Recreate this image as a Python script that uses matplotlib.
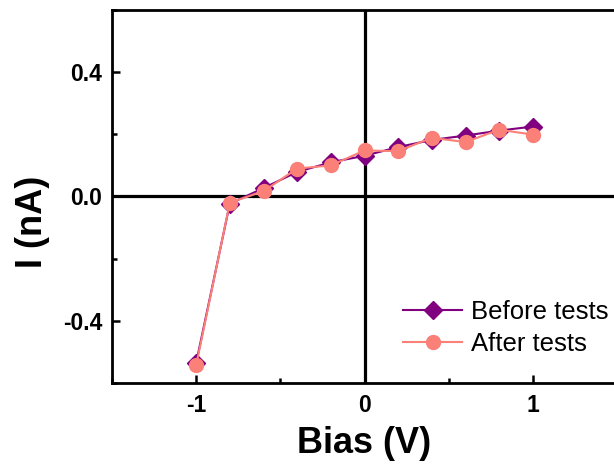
import matplotlib
matplotlib.use('Agg')
import matplotlib.pyplot as plt
from matplotlib.ticker import MultipleLocator

plt.rcParams['font.family'] = ['Liberation Sans', 'DejaVu Sans']

# I-V данные до и после испытаний
bias = [-1.0, -0.8, -0.6, -0.4, -0.2, 0.0, 0.2, 0.4, 0.6, 0.8, 1.0]
before = [-0.535, -0.023, 0.027, 0.079, 0.110, 0.131, 0.159, 0.182, 0.196, 0.212, 0.225]
after = [-0.543, -0.020, 0.017, 0.090, 0.100, 0.148, 0.146, 0.189, 0.175, 0.215, 0.199]

W, H = 614, 468
fig = plt.figure(figsize=(W / 100, H / 100), dpi=100)
ax = fig.add_axes([112 / W, 1 - 383 / H, (617 - 112) / W, (383 - 10) / H])

# оси через ноль
ax.axhline(0, color='black', lw=2.3, zorder=1)
ax.axvline(0, color='black', lw=2.3, zorder=1)

ax.plot(bias, before, '-D', color='#800080', lw=1.5, ms=9,
        label='Before tests', zorder=3)
ax.plot(bias, after, '-o', color='#FA8078', lw=1.5, ms=10,
        label='After tests', zorder=4)

ax.set_xlim(-1.5, 1.5)
ax.set_ylim(-0.6, 0.6)
ax.xaxis.set_minor_locator(MultipleLocator(0.5))
ax.yaxis.set_minor_locator(MultipleLocator(0.2))
ax.set_xticks([-1, 0, 1])
ax.set_xticklabels(['-1', '0', '1'])
ax.set_yticks([-0.4, 0.0, 0.4])
ax.set_yticklabels(['-0.4', '0.0', '0.4'])

for s in ax.spines.values():
    s.set_linewidth(2.0)

ax.tick_params(which='major', direction='in', length=6, width=1.8,
               labelsize=16.5)
ax.tick_params(which='minor', direction='in', length=3.5, width=1.8)
ax.tick_params(axis='x', pad=8)
ax.tick_params(axis='y', pad=7)
for lab in ax.get_xticklabels() + ax.get_yticklabels():
    lab.set_fontweight('bold')

ax.set_xlabel('Bias (V)', fontsize=26, fontweight='bold', labelpad=6.5)
fig.text(32 / W, 1 - 222 / H, 'I (nA)', rotation=90, fontsize=26,
         fontweight='bold', ha='center', va='center')

ax.legend(loc='center left', bbox_to_anchor=(403 / W, 1 - 328 / H),
          bbox_transform=fig.transFigure, frameon=False, fontsize=18.5,
          handlelength=2.3, handletextpad=0.35, labelspacing=0.3,
          borderpad=0, borderaxespad=0)

fig.savefig('out.png', dpi=100)
